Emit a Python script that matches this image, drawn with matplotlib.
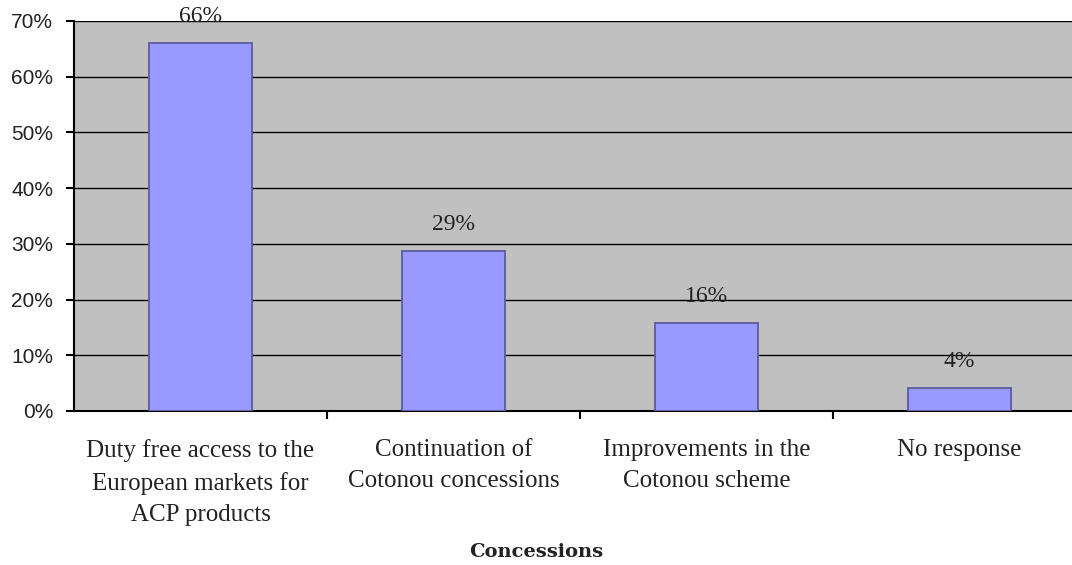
import numpy as np
import matplotlib.pyplot as plt

# data
categories = ['Duty free access to the\nEuropean markets for\nACP products',
              'Continuation of\nCotonou concessions',
              'Improvements in the\nCotonou scheme',
              'No response']
values = [66, 28.7, 15.8, 4.1]
bar_labels = ['66%', '29%', '16%', '4%']
yticks = [0, 10, 20, 30, 40, 50, 60, 70]

fig = plt.figure(figsize=(10.72, 5.65), dpi=100)
ax = fig.add_axes([74/1072, 1 - 411/565, 1012/1072, 390/565])

x = np.arange(len(categories))
ax.set_facecolor('#C0C0C0')
ax.bar(x, values, width=0.41, color='#9999FF', edgecolor='#5B5BA0',
       linewidth=1.3, zorder=3)

for xi, v, lab in zip(x, values, bar_labels):
    ax.annotate(lab, (xi, v), xytext=(0, 19), textcoords='offset points',
                ha='center', va='center', fontsize=17,
                family='Liberation Serif', color='#222222')

ax.set_xlim(-0.5, len(categories) - 0.5)
ax.set_ylim(0, 70)
ax.set_yticks(yticks)
ax.set_yticklabels([f'{t}%' for t in yticks], family='Liberation Sans',
                   fontsize=15, color='#222222')
ax.yaxis.grid(True, color='black', linewidth=1.0, zorder=1)
ax.set_axisbelow(True)

# category ticks between groups, labels at bar centers
ax.set_xticks(np.arange(0.5, len(categories) - 0.5, 1.0))
ax.set_xticklabels([])
ax.set_xticks(x, minor=True)
ax.set_xticklabels(categories, minor=True, family='Liberation Serif',
                   fontsize=18, color='#222222', linespacing=1.55)
ax.tick_params(axis='x', which='minor', length=0, pad=20)
ax.tick_params(axis='x', which='major', length=6, width=1.5, direction='out')
ax.tick_params(axis='y', length=6, width=1.5, direction='out', pad=9)

for s in ['top', 'right']:
    ax.spines[s].set_visible(False)
ax.spines['left'].set_linewidth(1.5)
ax.spines['bottom'].set_linewidth(1.5)

fig.text(536/1072, 1 - 552/565, 'Concessions', ha='center', va='center',
         family='DejaVu Serif', fontweight='bold', fontsize=14,
         color='#222222')

fig.savefig('out.png', dpi=100)
